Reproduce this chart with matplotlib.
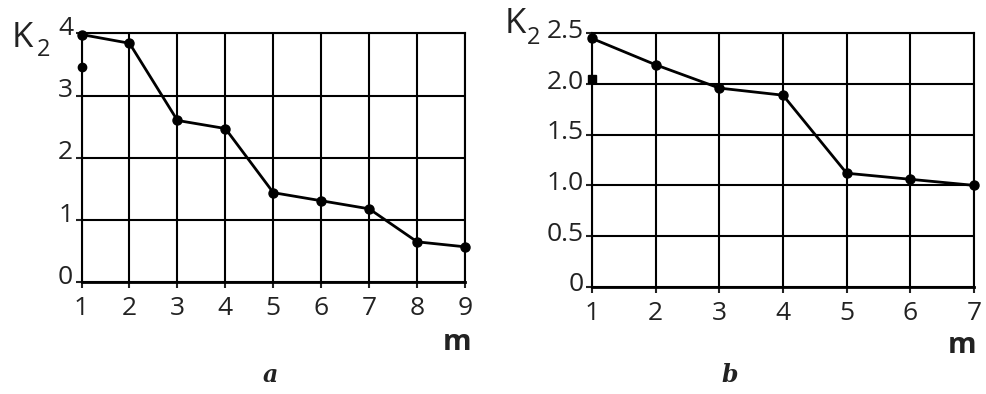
import matplotlib.pyplot as plt
import matplotlib.transforms as mtransforms

plt.rcParams['font.family'] = ['Open Sans', 'DejaVu Sans']

# panel a
m_a = [1, 2, 3, 4, 5, 6, 7, 8, 9]
k2_a = [3.98, 3.84, 2.60, 2.47, 1.44, 1.31, 1.18, 0.65, 0.57]
extra_a = (1, 3.46)
yticks_a = [0, 1, 2, 3, 4]
ylabels_a = ['0', '1', '2', '3', '4']

# panel b
m_b = [1, 2, 3, 4, 5, 6, 7]
k2_b = [2.45, 2.19, 1.96, 1.89, 1.12, 1.06, 1.00]
extra_b = (1, 2.05)
yticks_b = [0, 0.5, 1.0, 1.5, 2.0, 2.5]
ylabels_b = ['0', '0.5', '1.0', '1.5', '2.0', '2.5']

fig = plt.figure(figsize=(9.86, 3.94), dpi=100)
ax_a = fig.add_axes([0.0827, 0.2835, 0.389, 0.632])
ax_b = fig.add_axes([0.6004, 0.2723, 0.3874, 0.643])

TXT = '#222222'


def draw_panel(ax, xs, ys, extra, yticks, ylabels, extra_marker, lift):
    ax.plot(xs, ys, color='black', lw=2, marker='o', ms=6.5, clip_on=False, zorder=5)
    ax.plot([extra[0]], [extra[1]], color='black', marker=extra_marker, ms=6,
            clip_on=False, zorder=5)
    ax.set_xlim(xs[0], xs[-1])
    ax.set_ylim(yticks[0], yticks[-1])
    ax.set_xticks(xs)
    ax.set_yticks(yticks)
    ax.set_yticklabels(ylabels)
    ax.grid(True, color='black', lw=1.5)
    for s in ax.spines.values():
        s.set_linewidth(1.5)
    ax.spines['bottom'].set_linewidth(2)
    ax.tick_params(axis='both', length=4, width=1.5, labelsize=19, colors=TXT)
    ax.tick_params(axis='x', pad=6)
    ax.tick_params(axis='y', pad=2)
    # labels sit a little above their grid line in the original
    shift = mtransforms.ScaledTranslation(0, lift / 100, fig.dpi_scale_trans)
    for lab in ax.get_yticklabels():
        lab.set_verticalalignment('center')
        lab.set_transform(lab.get_transform() + shift)


draw_panel(ax_a, m_a, k2_a, extra_a, yticks_a, ylabels_a, 'o', 5)
draw_panel(ax_b, m_b, k2_b, extra_b, yticks_b, ylabels_b, 's', 2)

# axis titles
fig.text(0.012, 1 - 47 / 394, 'K', fontsize=25, color=TXT)
fig.text(0.037, 1 - 56 / 394, '2', fontsize=17, color=TXT)
fig.text(0.512, 1 - 33 / 394, 'K', fontsize=25, color=TXT)
fig.text(0.534, 1 - 44 / 394, '2', fontsize=17, color=TXT)
fig.text(0.464, 1 - 350 / 394, 'm', fontsize=21, fontweight='bold', color=TXT, ha='center')
fig.text(0.976, 1 - 353 / 394, 'm', fontsize=21, fontweight='bold', color=TXT, ha='center')

# panel captions
fig.text(0.274, 0.03, 'a', fontsize=17, fontstyle='italic', fontweight='bold',
         family='DejaVu Serif', ha='center', color=TXT)
fig.text(0.74, 0.03, 'b', fontsize=17, fontstyle='italic', fontweight='bold',
         family='DejaVu Serif', ha='center', color=TXT)

fig.savefig('out.png', dpi=100, facecolor='white')
